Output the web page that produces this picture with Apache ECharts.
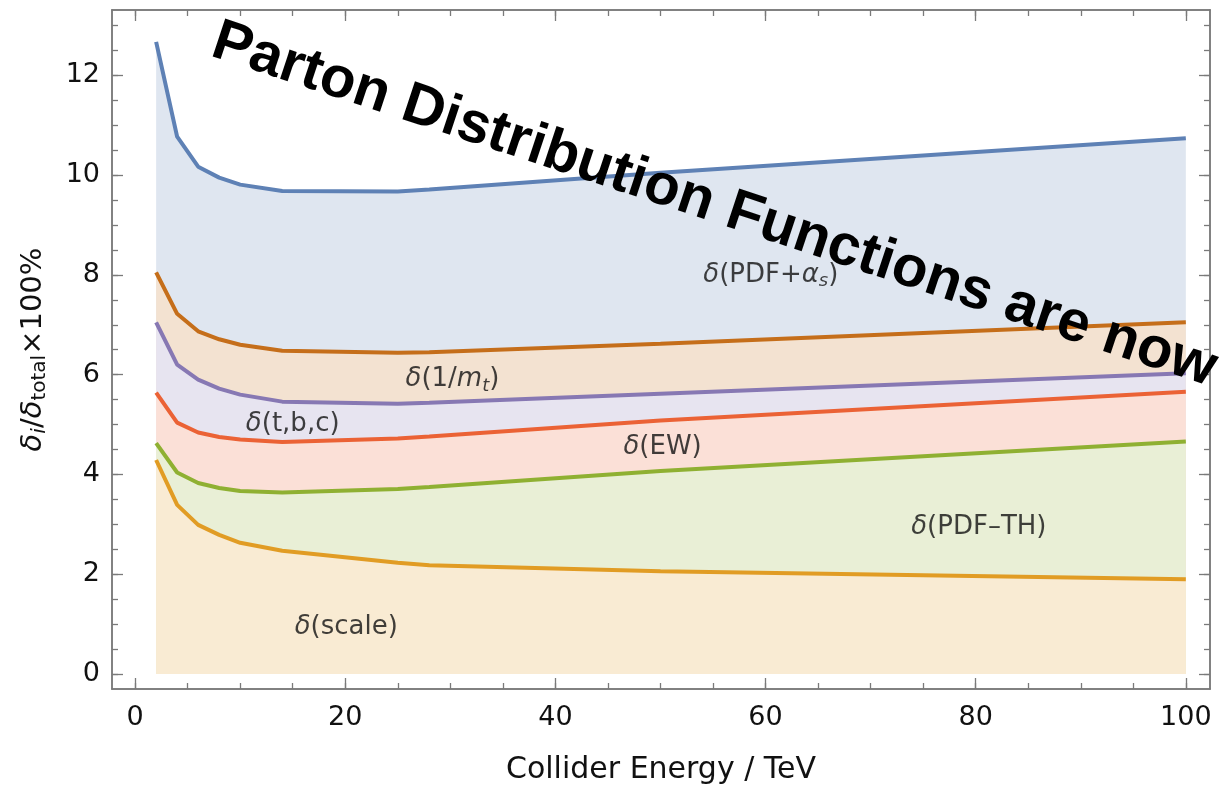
<!DOCTYPE html>
<html>
<head>
<meta charset="utf-8">
<title>uncertainty breakdown</title>
<script src="https://cdn.jsdelivr.net/npm/echarts@6/dist/echarts.min.js"></script>
<style>
  html, body { margin: 0; padding: 0; background: #fff; }
  #chart { width: 1220px; height: 788px; }
</style>
</head>
<body>
<div id="chart"></div>
<script>
// collider energies (TeV)
const energies = [2, 4, 6, 8, 10, 14, 25, 28, 50, 100]
// cumulative curves, top to bottom
const pdfAlphaS = [12.67, 10.77, 10.17, 9.95, 9.81, 9.68, 9.67, 9.71, 10.05, 10.74]
const invMt = [8.05, 7.22, 6.87, 6.71, 6.6, 6.48, 6.44, 6.45, 6.62, 7.05]
const tbc = [7.05, 6.2, 5.9, 5.72, 5.6, 5.46, 5.42, 5.44, 5.62, 6.03]
const ew = [5.64, 5.04, 4.84, 4.75, 4.7, 4.65, 4.72, 4.76, 5.08, 5.66]
const pdfTh = [4.63, 4.04, 3.83, 3.73, 3.67, 3.64, 3.71, 3.75, 4.07, 4.66]
const scale = [4.29, 3.39, 2.99, 2.79, 2.63, 2.47, 2.23, 2.18, 2.06, 1.90]

// tick labels
const xLabels = [0, 20, 40, 60, 80, 100]
const xMinor = [0, 5, 10, 15, 20, 25, 30, 35, 40, 45, 50, 55, 60, 65, 70, 75, 80, 85, 90, 95, 100]
const yLabels = [0, 2, 4, 6, 8, 10, 12]
const yMinor = [0, 0.5, 1, 1.5, 2, 2.5, 3, 3.5, 4, 4.5, 5, 5.5, 6, 6.5, 7, 7.5, 8, 8.5, 9, 9.5, 10, 10.5, 11, 11.5, 12, 12.5, 13]

// band labels: text, x, y
const bandLabels = [
  ['{i|δ}(PDF+{i|α}{sub|s})', 60.5, 8.0],
  ['{i|δ}(1/{i|m}{sub|t})', 30.2, 5.9],
  ['{i|δ}(t,b,c)', 15.0, 5.0],
  ['{i|δ}(EW)', 50.2, 4.55],
  ['{i|δ}(PDF–TH)', 80.3, 2.95],
  ['{i|δ}(scale)', 20.1, 0.94]
]

const FONT = '"DejaVu Sans", Verdana, sans-serif'
const TXT = '#111'
const frameColor = '#7a7a7a'

let chart = echarts.init(document.getElementById('chart'))

function band (name, values, line, fill) {
  return {
    name: name,
    type: 'line',
    symbol: 'none',
    xAxisIndex: 0,
    yAxisIndex: 0,
    data: energies.map((e, i) => [e, values[i]]),
    lineStyle: { color: line, width: 4 },
    areaStyle: { color: fill, opacity: 1 },
    emphasis: { disabled: true }
  }
}

function xAx (pos, ticks, len, labels) {
  return {
    type: 'value',
    position: pos,
    min: -2.2,
    max: 102.3,
    axisLine: { show: true, onZero: false, lineStyle: { color: frameColor, width: 1.5 } },
    axisTick: { show: true, inside: true, length: len, customValues: ticks, lineStyle: { color: frameColor, width: 1.3 } },
    axisLabel: labels
      ? { show: true, customValues: labels, margin: 15, color: TXT, fontFamily: FONT, fontSize: 27 }
      : { show: false },
    splitLine: { show: false }
  }
}

function yAx (pos, ticks, len, labels) {
  return {
    type: 'value',
    position: pos,
    min: -0.3,
    max: 13.31,
    axisLine: { show: true, onZero: false, lineStyle: { color: frameColor, width: 1.5 } },
    axisTick: { show: true, inside: true, length: len, customValues: ticks, lineStyle: { color: frameColor, width: 1.3 } },
    axisLabel: labels
      ? { show: true, customValues: labels, margin: 12, color: TXT, fontFamily: FONT, fontSize: 27 }
      : { show: false },
    splitLine: { show: false }
  }
}

let xMain = xAx('bottom', xLabels, 11, xLabels)
xMain.name = 'Collider Energy / TeV'
xMain.nameLocation = 'middle'
xMain.nameGap = 66
xMain.nameTextStyle = { color: TXT, fontFamily: FONT, fontSize: 30 }

let yMain = yAx('left', yLabels, 11, yLabels)
yMain.name = '{d|δ}{sub|i}/{d|δ}{st|total}×100%'
yMain.nameLocation = 'middle'
yMain.nameGap = 62
yMain.nameTextStyle = {
  color: TXT,
  fontFamily: FONT,
  fontSize: 29,
  lineHeight: 34,
  rich: {
    d: { fontStyle: 'italic', fontFamily: FONT, fontSize: 29, color: TXT },
    sub: { fontStyle: 'italic', fontFamily: FONT, fontSize: 20, lineHeight: 19, verticalAlign: 'bottom', color: TXT },
    st: { fontFamily: FONT, fontSize: 20, lineHeight: 19, verticalAlign: 'bottom', color: TXT }
  }
}

chart.setOption({
  animation: false,
  backgroundColor: '#fff',
  grid: { left: 112, right: 10, top: 10, bottom: 99, containLabel: false, outerBoundsMode: 'none' },
  xAxis: [
    xMain,
    xAx('bottom', xMinor, 6),
    xAx('top', xLabels, 11),
    xAx('top', xMinor, 6)
  ],
  yAxis: [
    yMain,
    yAx('left', yMinor, 6),
    yAx('right', yLabels, 11),
    yAx('right', yMinor, 6)
  ],
  series: [
    band('PDF+alpha_s', pdfAlphaS, '#5E81B5', '#dfe6f0'),
    band('1/m_t', invMt, '#C56E1A', '#f3e2d1'),
    band('t,b,c', tbc, '#8778B3', '#e7e4f0'),
    band('EW', ew, '#EB6235', '#fbe0d7'),
    band('PDF-TH', pdfTh, '#8FB032', '#e9efd6'),
    band('scale', scale, '#E19C24', '#f9ebd3'),
    {
      type: 'scatter',
      symbolSize: 0,
      silent: true,
      z: 5,
      data: bandLabels.map(b => ({ value: [b[1], b[2]], label: { formatter: b[0] } })),
      label: {
        show: true,
        position: 'inside',
        color: TXT,
        fontFamily: FONT,
        fontSize: 26,
        lineHeight: 31,
        rich: {
          i: { fontStyle: 'italic', fontFamily: FONT, fontSize: 26, color: TXT },
          sub: { fontStyle: 'italic', fontFamily: FONT, fontSize: 18, lineHeight: 17, verticalAlign: 'bottom', color: TXT }
        }
      }
    }
  ],
  graphic: [
    {
      type: 'text',
      x: 214,
      y: 40,
      rotation: -18.3 * Math.PI / 180,
      z: 100,
      style: {
        text: 'Parton Distribution Functions are now',
        fill: '#000',
        font: 'bold 58px "Liberation Sans"',
        textAlign: 'left',
        textVerticalAlign: 'middle'
      }
    }
  ]
})

window.addEventListener('resize', function () {
  chart.resize()
})
</script>
</body>
</html>
